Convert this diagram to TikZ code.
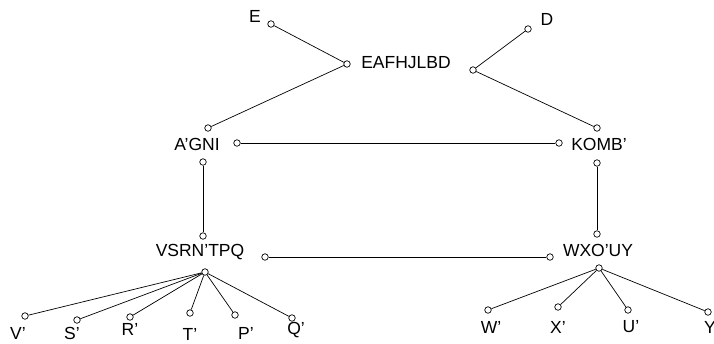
\documentclass[tikz,border=0pt]{standalone}
\usepackage{fontspec}
\setmainfont{Liberation Sans}
\begin{document}
\begin{tikzpicture}[x=1pt,y=-1pt,
  lbl/.style={inner sep=0pt,font=\fontsize{17.5}{20}\selectfont},
  port/.style={circle,draw,fill=white,inner sep=0pt,minimum size=6.5pt,line width=0.7pt},
  link/.style={line width=0.7pt}]
\useasboundingbox (0,0) rectangle (714,343);

% labels
\node[lbl] (tE) at (255,16) {E};
\node[lbl] (tD) at (547,19) {D};
\node[lbl] (tEA) at (406,63) {EAFHJLBD};
\node[lbl] (tAG) at (197,144) {A'GNI};
\node[lbl] (tKO) at (599,144) {KOMB'};
\node[lbl] (tVS) at (200,252) {VSRN'TPQ};
\node[lbl] (tWX) at (598,250) {WXO'UY};
\node[lbl] (tV) at (18,333) {V'};
\node[lbl] (tS) at (72,333) {S'};
\node[lbl] (tR) at (130,329) {R'};
\node[lbl] (tT) at (190,334) {T'};
\node[lbl] (tP) at (246,333) {P'};
\node[lbl] (tQ) at (296,330) {Q'};
\node[lbl] (tW) at (491,327) {W'};
\node[lbl] (tX) at (558,327) {X'};
\node[lbl] (tU) at (631,327) {U'};
\node[lbl] (tY) at (712,327) {Y'};

% ports
\node[port] (pE) at (271,24) {};
\node[port] (pD) at (528,29) {};
\node[port] (pEAl) at (347,64) {};
\node[port] (pEAr) at (473,70) {};
\node[port] (pAGt) at (208,128) {};
\node[port] (pAGr) at (237,143) {};
\node[port] (pAGb) at (203,162) {};
\node[port] (pKOl) at (559,143) {};
\node[port] (pKOt) at (597,128) {};
\node[port] (pKOb) at (597,163) {};
\node[port] (pVSt) at (203,236) {};
\node[port] (pVSr) at (265,257) {};
\node[port] (pVSb) at (205,272) {};
\node[port] (pWXt) at (597,234) {};
\node[port] (pWXl) at (550,257) {};
\node[port] (pWXb) at (599,268) {};
\node[port] (pV) at (25,316) {};
\node[port] (pS) at (77,320) {};
\node[port] (pR) at (130,317) {};
\node[port] (pT) at (190,313) {};
\node[port] (pP) at (235,315) {};
\node[port] (pQ) at (292,318) {};
\node[port] (pW) at (488,310) {};
\node[port] (pX) at (558,307) {};
\node[port] (pU) at (628,310) {};
\node[port] (pY) at (708,312) {};

% connectors
\draw[link] (pE) -- (pEAl);
\draw[link] (pEAl) -- (pAGt);
\draw[link] (pD) -- (pEAr);
\draw[link] (pEAr) -- (pKOt);
\draw[link] (pAGr) -- (pKOl);
\draw[link] (pAGb) -- (pVSt);
\draw[link] (pKOb) -- (pWXt);
\draw[link] (pVSr) -- (pWXl);
\foreach \c in {pV,pS,pR,pT,pP,pQ} \draw[link] (pVSb) -- (\c);
\foreach \c in {pW,pX,pU,pY} \draw[link] (pWXb) -- (\c);
\end{tikzpicture}
\end{document}
